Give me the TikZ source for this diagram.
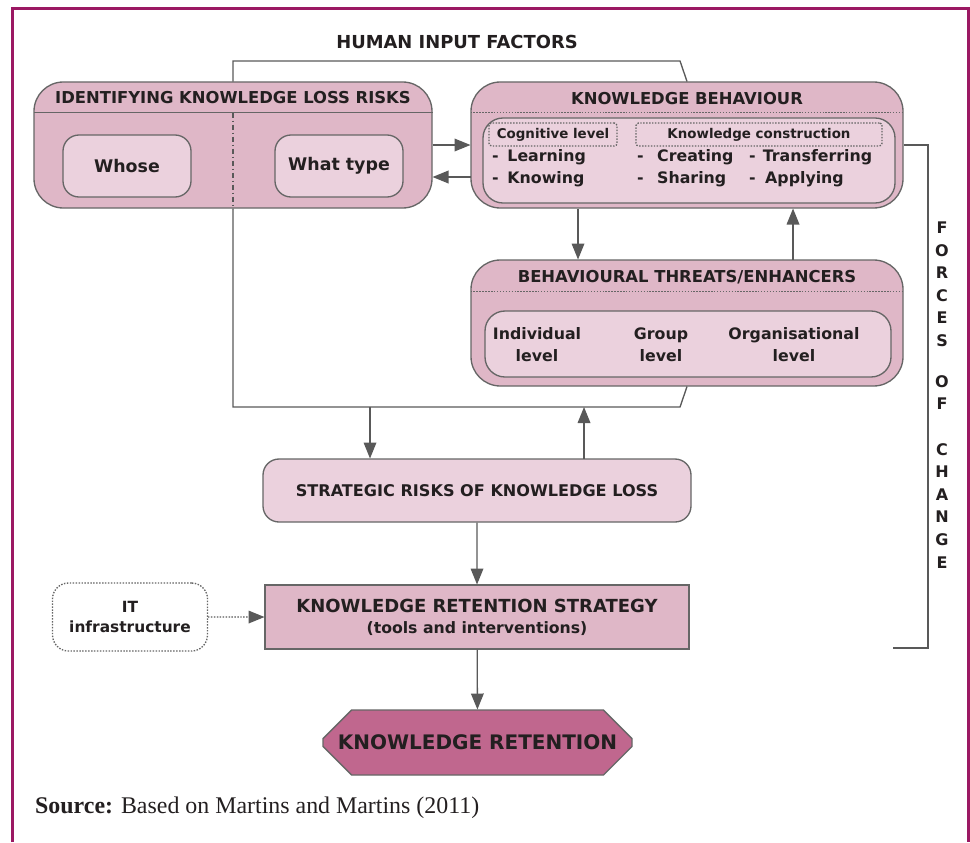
\documentclass[tikz,border=0pt]{standalone}
\usepackage{fontspec}
\setmainfont{DejaVu Sans}
\newfontfamily\srcfont{Liberation Serif}
\usetikzlibrary{arrows.meta, positioning, shapes.misc, calc}
\definecolor{pkm}{HTML}{DFB7C7}
\definecolor{pkl}{HTML}{EBD1DD}
\definecolor{pkd}{HTML}{C0678E}
\definecolor{bd}{HTML}{666666}
\definecolor{ln}{HTML}{595959}
\definecolor{fr}{HTML}{9B1863}
\definecolor{tx}{HTML}{231F20}

\begin{document}
\begin{tikzpicture}[
    x=1pt, y=-1pt, scale=0.75, transform shape,
    g/.style={rectangle, draw=bd, line width=1pt, fill=pkm, rounded corners=22pt, inner sep=0pt},
    b/.style={rectangle, draw=bd, line width=1pt, fill=pkl, rounded corners=12pt, inner sep=0pt, align=center, text=tx},
    o/.style={rectangle, draw=bd, line width=1pt, dash pattern=on 1.1pt off 1.1pt, rounded corners=2pt, inner sep=0pt, text=tx},
    hd/.style={font=\fontsize{16.4}{19}\selectfont\bfseries, text=tx, inner sep=0pt},
    t/.style={font=\fontsize{15.8}{22}\selectfont\bfseries, text=tx, inner sep=0pt, align=center},
    s/.style={font=\fontsize{13.4}{16}\selectfont\bfseries, text=tx},
    a/.style={draw=ln, line width=1pt, -{Triangle[length=12pt, width=9.5pt]}},
    l/.style={draw=ln, line width=1pt},
    dt/.style={draw=bd, line width=1pt, dash pattern=on 1.1pt off 1.1pt},
    d/.style={a, dash pattern=on 1.1pt off 1.1pt},
]
\useasboundingbox (0,0) rectangle (970,842);

% Frame
\draw[fr, line width=2.25pt] (12,842) -- (12,8.5) -- (968,8.5) -- (968,842);

% Human input
\node[hd, font=\fontsize{17.9}{20}\selectfont\bfseries] (human) at (457,42) {HUMAN INPUT FACTORS};

% Identifying knowledge loss risks
\node[g, minimum width=398pt, minimum height=126pt] (risks) at (233,145) {};
\node[hd] (risksT) at (233,98) {IDENTIFYING KNOWLEDGE LOSS RISKS};
\node[b, font=\fontsize{17.4}{20}\selectfont\bfseries, minimum width=128pt, minimum height=62pt] (whose) at (127,166) {Whose};
\node[b, font=\fontsize{17.4}{20}\selectfont\bfseries, minimum width=128pt, minimum height=62pt] (what) at (339,166) {What type};

% Knowledge behaviour
\node[g, minimum width=432pt, minimum height=126pt] (behav) at (687,145) {};
\node[hd] (behavT) at (687,99) {KNOWLEDGE BEHAVIOUR};
\node[b, rounded corners=15pt, minimum width=412pt, minimum height=85pt] (behavIn) at (689,160.5) {};
\node[o, s, minimum width=128pt, minimum height=23pt] (cog) at (553,134.5) {Cognitive level};
\node[o, s, minimum width=246pt, minimum height=23pt] (cons) at (759,134.5) {Knowledge construction};
\node[t, anchor=west] (learn) at (492,157) {-\hspace{0.55em}Learning};
\node[t, anchor=west] (know) at (492,179) {-\hspace{0.55em}Knowing};
\node[t, anchor=west] (create) at (637,157) {-\hspace{0.85em}Creating};
\node[t, anchor=west] (share) at (637,179) {-\hspace{0.85em}Sharing};
\node[t, anchor=west] (transf) at (749,157) {-\hspace{0.45em}Transferring};
\node[t, anchor=west] (apply) at (749,179) {-\hspace{0.6em}Applying};

% Behavioural threats
\node[g, minimum width=432pt, minimum height=126pt] (threats) at (687,323) {};
\node[hd] (threatsT) at (687,277) {BEHAVIOURAL THREATS/ENHANCERS};
\node[b, rounded corners=15pt, minimum width=406pt, minimum height=66pt] (threatsIn) at (688,344) {};
\node[t] (indiv) at (537,345) {Individual\\level};
\node[t] (group) at (661,345) {Group\\level};
\node[t] (org) at (794,345) {Organisational\\level};

% Strategy
\node[b, font=\fontsize{16.1}{19}\selectfont\bfseries, minimum width=428pt, minimum height=63pt] (strat) at (477,490.5) {STRATEGIC RISKS OF KNOWLEDGE LOSS};
\node[b, fill=pkm, rounded corners=0pt, font=\fontsize{18}{22}\selectfont\bfseries, minimum width=424pt, minimum height=64pt] (retain) at (477,617) {KNOWLEDGE RETENTION STRATEGY\\[-1pt]{\fontsize{15.7}{18}\selectfont(tools and interventions)}};
\node[b, fill=white, dash pattern=on 1.1pt off 1.1pt, font=\fontsize{15.4}{20}\selectfont\bfseries, minimum width=155pt, minimum height=68pt] (itinf) at (130,617) {IT\\infrastructure};
\node[chamfered rectangle, chamfered rectangle xsep=15pt, chamfered rectangle ysep=21pt, draw=bd, line width=1pt, fill=pkd, inner sep=0pt, text=tx, font=\fontsize{20}{24}\selectfont\bfseries, minimum width=309pt, minimum height=65pt] (ret) at (477.5,742.5) {KNOWLEDGE RETENTION};

% Forces of change
\node[t, font=\fontsize{16}{22.6}\selectfont\bfseries] (forces) at (942,395) {F\\O\\R\\C\\E\\S\\[18.1pt]O\\F\\[22.6pt]C\\H\\A\\N\\G\\E};

% Source
\node[anchor=west, inner sep=0pt, text=tx, font=\srcfont\fontsize{23.9}{28}\selectfont] (src) at (35,808) {\textbf{Source:} Based on Martins and Martins (2011)};

% Connectors
\coordinate (hiL) at (233,61);
\coordinate (hiR) at (680,61);
\coordinate (loL) at (233,407);
\coordinate (loR) at (680,407);
\coordinate (dn) at (370,407);
\coordinate (up) at (584,407);
\coordinate (fcE) at (893,648);

\draw[l] (risks.north) -- (hiL) -- (hiR) -- (behav.north);
\draw[l] (risks.south) -- (loL) -- (loR) -- (threats.south);
\draw[l, dash pattern=on 4pt off 2pt on 1pt off 2pt] ($(risks.north)+(0,31)$) -- (risks.south);
\draw[l, draw=bd] ($(risks.north west)+(0,31)$) -- ($(risks.north east)+(0,31)$);
\draw[dt] ($(behav.north west)+(0,31)$) -- ($(behav.north east)+(0,31)$);
\draw[dt] ($(threats.north west)+(0,32)$) -- ($(threats.north east)+(0,32)$);

\draw[a] (risks.east) -- (behav.west);
\draw[a] ($(behav.west)+(0,32)$) -- ($(risks.east)+(0,32)$);
\draw[a] ($(behav.south)+(-109,0)$) -- ($(threats.north)+(-109,0)$);
\draw[a] ($(threats.north)+(106,0)$) -- ($(behav.south)+(106,0)$);
\draw[a] (dn) -- (dn |- strat.north);
\draw[a] (strat.north -| up) -- (up);
\draw[a] (strat) -- (retain);
\draw[a] (retain) -- (ret);
\draw[d] (itinf) -- (retain);
\draw[l] (behav.east) -| ($(fcE)+(35,0)$) -- (fcE);
\end{tikzpicture}
\end{document}
